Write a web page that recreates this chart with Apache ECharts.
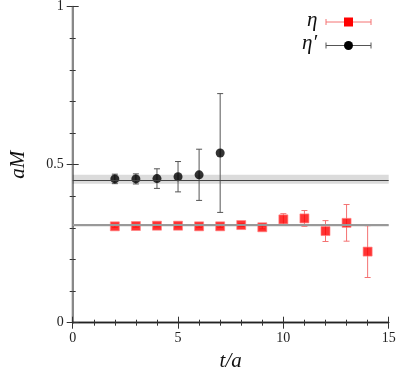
<!DOCTYPE html>
<html>
<head>
<meta charset="utf-8">
<script src="https://cdn.jsdelivr.net/npm/echarts@6/dist/echarts.min.js"></script>
<style>
  html, body { margin: 0; padding: 0; background: #fff; }
</style>
</head>
<body>
<div id="chart" style="width: 398px; height: 372px"></div>
<script>
// eta (red squares)
const tEta = [2, 3, 4, 5, 6, 7, 8, 9, 10, 11, 12, 13, 14];
const eta = [0.305, 0.306, 0.307, 0.307, 0.305, 0.305, 0.309, 0.302, 0.327, 0.330, 0.290, 0.316, 0.225];
const etaErr = [0.004, 0.004, 0.004, 0.004, 0.004, 0.004, 0.004, 0.005, 0.018, 0.025, 0.033, 0.058, 0.082];
// eta' (black circles)
const tEtaP = [2, 3, 4, 5, 6, 7];
const etaP = [0.455, 0.455, 0.456, 0.462, 0.468, 0.537];
const etaPErr = [0.015, 0.016, 0.031, 0.048, 0.081, 0.188];
// fit bands [value, error]
const etaFit = [0.307, 0.003];
const etaPFit = [0.454, 0.014];
const xTicks = [0, 5, 10, 15];
const yTicks = [0, 0.5, 1];

const font = "Liberation Serif";

function pts(t, v) {
  return t.map((x, i) => [x, v[i]]);
}
function errPts(t, v, e) {
  return t.map((x, i) => [x, v[i], e[i]]);
}
function errBars(color) {
  return function (params, api) {
    const x = api.value(0), y = api.value(1), e = api.value(2);
    const hi = api.coord([x, y + e]);
    const lo = api.coord([x, y - e]);
    const w = 3;
    const style = { stroke: color, lineWidth: 1 };
    return {
      type: "group",
      children: [
        { type: "line", shape: { x1: hi[0], y1: hi[1], x2: lo[0], y2: lo[1] }, style },
        { type: "line", shape: { x1: hi[0] - w, y1: hi[1], x2: hi[0] + w, y2: hi[1] }, style },
        { type: "line", shape: { x1: lo[0] - w, y1: lo[1], x2: lo[0] + w, y2: lo[1] }, style },
      ],
    };
  };
}
function fitLine(fit, color, lineW) {
  return {
    silent: true,
    symbol: "none",
    label: { show: false },
    lineStyle: { color: color, type: "solid", width: lineW },
    data: [{ yAxis: fit[0] }],
  };
}

const chart = echarts.init(document.getElementById("chart"));
const axisText = { fontFamily: font, fontSize: 14, color: "#222" };
const tick = { show: true, inside: true, length: 6, lineStyle: { color: "#333" } };
const minor = { show: true, splitNumber: 5, length: 3, lineStyle: { color: "#333" } };

chart.setOption({
  animation: false,
  grid: { left: 72.7, top: 6.7, width: 316, height: 316, outerBoundsMode: "none", containLabel: false },
  xAxis: [
    {
      type: "value", min: 0, max: 15, interval: 5,
      axisLine: { lineStyle: { color: "#333", width: 1.3 } },
      axisTick: tick,
      minorTick: minor,
      splitLine: { show: false },
      axisLabel: Object.assign({ margin: 9, formatter: v => xTicks.includes(v) ? String(v) : "" }, axisText),
      name: "t/a",
      nameLocation: "middle",
      nameGap: 24,
      nameTextStyle: { fontFamily: font, fontSize: 21, fontStyle: "italic", color: "#111" },
    },
    {
      type: "value", min: 0, max: 15, interval: 5, position: "top",
      axisLine: { show: true, lineStyle: { color: "#222", width: 1.3 } },
      axisTick: tick,
      minorTick: minor,
      splitLine: { show: false },
      axisLabel: { show: false },
    },
  ],
  yAxis: [
    {
      type: "value", min: 0, max: 1, interval: 0.5,
      axisLine: { show: true, lineStyle: { color: "#111", width: 1.3 } },
      axisTick: tick,
      minorTick: minor,
      splitLine: { show: false },
      axisLabel: Object.assign({ margin: 9, formatter: v => yTicks.includes(v) ? String(v) : "" }, axisText),
      name: "aM",
      nameLocation: "middle",
      nameGap: 44,
      nameTextStyle: { fontFamily: font, fontSize: 21, fontStyle: "italic", color: "#111" },
    },
    {
      type: "value", min: 0, max: 1, interval: 0.5, position: "right",
      axisLine: { show: true, lineStyle: { color: "#888", width: 2 } },
      axisTick: tick,
      minorTick: minor,
      splitLine: { show: false },
      axisLabel: { show: false },
    },
  ],
  series: [
    {
      name: "etaPBand",
      type: "line",
      data: [],
      markArea: {
        silent: true,
        itemStyle: { color: "rgba(0,0,0,0.14)" },
        data: [[{ yAxis: etaPFit[0] - etaPFit[1] }, { yAxis: etaPFit[0] + etaPFit[1] }]],
      },
      markLine: fitLine(etaPFit, "#444", 1),
    },
    {
      name: "etaBand",
      type: "line",
      data: [],
      markArea: {
        silent: true,
        itemStyle: { color: "rgba(0,0,0,0.12)" },
        data: [[{ yAxis: etaFit[0] - etaFit[1] }, { yAxis: etaFit[0] + etaFit[1] }]],
      },
      markLine: fitLine(etaFit, "#999", 2.2),
    },
    {
      name: "etaErr",
      type: "custom",
      renderItem: errBars("#f47272"),
      data: errPts(tEta, eta, etaErr),
      z: 3,
    },
    {
      name: "etaPErr",
      type: "custom",
      renderItem: errBars("#555"),
      data: errPts(tEtaP, etaP, etaPErr),
      z: 3,
    },
    {
      name: "η",
      type: "scatter",
      symbol: "rect",
      symbolSize: 9,
      itemStyle: { color: "#ff0000", borderColor: "#ff8080", borderWidth: 0.8 },
      data: pts(tEta, eta),
      z: 4,
    },
    {
      name: "η′",
      type: "scatter",
      symbol: "circle",
      symbolSize: 9,
      itemStyle: { color: "#000" },
      data: pts(tEtaP, etaP),
      z: 4,
    },
  ],
  graphic: [
    { type: "text", left: 307, top: 10, style: { text: "η", font: "italic 21px " + font, fill: "#111" } },
    { type: "line", shape: { x1: 326, y1: 22, x2: 371, y2: 22 }, style: { stroke: "#f47272", lineWidth: 1 } },
    { type: "line", shape: { x1: 326, y1: 19, x2: 326, y2: 25 }, style: { stroke: "#f47272", lineWidth: 1 } },
    { type: "line", shape: { x1: 371, y1: 19, x2: 371, y2: 25 }, style: { stroke: "#f47272", lineWidth: 1 } },
    { type: "rect", shape: { x: 344, y: 17.5, width: 9, height: 9 }, style: { fill: "#ff0000" } },
    { type: "text", left: 302, top: 33, style: { text: "η′", font: "italic 21px " + font, fill: "#111" } },
    { type: "line", shape: { x1: 326, y1: 45.5, x2: 371, y2: 45.5 }, style: { stroke: "#555", lineWidth: 1 } },
    { type: "line", shape: { x1: 326, y1: 42.5, x2: 326, y2: 48.5 }, style: { stroke: "#555", lineWidth: 1 } },
    { type: "line", shape: { x1: 371, y1: 42.5, x2: 371, y2: 48.5 }, style: { stroke: "#555", lineWidth: 1 } },
    { type: "circle", shape: { cx: 348.5, cy: 45.5, r: 4.5 }, style: { fill: "#000" } },
  ],
});
</script>
</body>
</html>
